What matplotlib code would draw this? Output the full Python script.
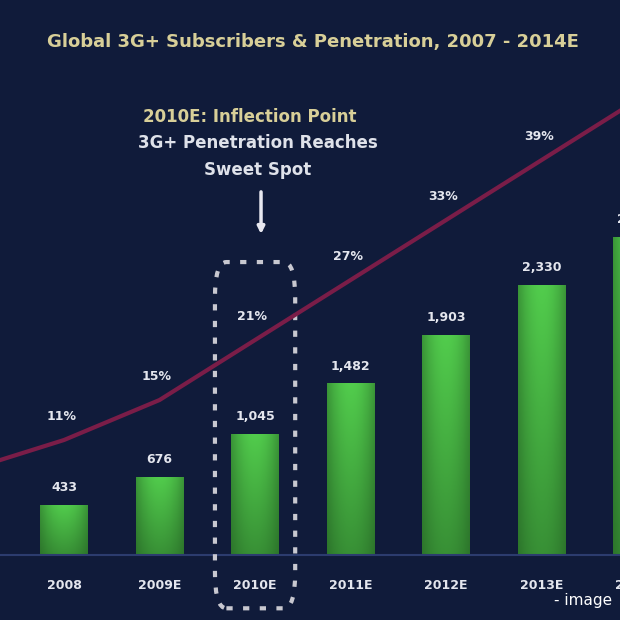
import numpy as np
import matplotlib.pyplot as plt
from matplotlib.patches import FancyBboxPatch

# data (subscribers in MM, penetration in %)
years = ["2007", "2008", "2009E", "2010E", "2011E", "2012E", "2013E", "2014E"]
subs = [295, 433, 676, 1045, 1482, 1903, 2330, 2745]
sub_labels = ["295", "433", "676", "1,045", "1,482", "1,903", "2,330", "2,745"]
penetration = [8, 11, 15, 21, 27, 33, 39, 45]

bg = "#101b3a"
fig = plt.figure(figsize=(6.2, 6.2), dpi=100, facecolor=bg)
ax = fig.add_axes([0, 0, 1, 1], facecolor=bg)
ax2 = ax.twinx()

x = np.arange(len(years))

# green bars with a soft gradient
bars = ax.bar(x, subs, width=0.5, color="#3aa83a", zorder=2)
gx = np.linspace(-1, 1, 40)
gy = np.linspace(0, 1, 60)
shade = (1 - 0.45 * gx[None, :] ** 2) * (0.5 + 0.5 * gy[:, None])
grad = np.zeros((60, 40, 3))
grad[..., 0] = 0.12 + 0.20 * shade
grad[..., 1] = 0.33 + 0.47 * shade
grad[..., 2] = 0.12 + 0.18 * shade
for b, xi, v, lab in zip(bars, x, subs, sub_labels):
    im = ax.imshow(grad, extent=[xi - 0.25, xi + 0.25, 0, v], origin="lower",
                   aspect="auto", zorder=3)
    im.set_clip_path(b)
    ax.text(xi, v + 150, lab, ha="center", va="center",
            color="#e4e6ee", fontsize=9, fontweight="bold", zorder=5)

# baseline and year labels
ax.axhline(0, color="#2c3c6e", lw=1.5, zorder=4)
for xi, yr in zip(x, years):
    ax.text(xi, -260, yr, ha="center", va="center", color="#e4e6ee",
            fontsize=9, fontweight="bold")

ax.set_xlim(0.33, 6.82)
ax.set_ylim(-561, 4793)
ax.axis("off")

# penetration line
ax2.plot(x, penetration, color="#7a1d48", lw=3, zorder=4, solid_capstyle="round")
for xi, p in zip(x, penetration):
    ax2.annotate(f"{p}%", (xi, p), xytext=(-2, 17), textcoords="offset points",
                 ha="center", va="center", color="#e4e6ee", fontsize=9,
                 fontweight="bold")
ax2.set_ylim(-7, 55)
ax2.set_xlim(ax.get_xlim())
ax2.axis("off")

# dashed box around the inflection year
box = FancyBboxPatch((3 - 0.5 + 0.08, -460), 1 - 0.16, 2990,
                     boxstyle="round,pad=0,rounding_size=0.12",
                     fill=False, ec="#c8c8d0", lw=3, ls=(0, (1.5, 2.5)),
                     mutation_aspect=2600, zorder=6)
ax.add_patch(box)

# callout text and arrow
fig.text(0.403, 0.812, "2010E: Inflection Point", ha="center", va="center",
         color="#d8cf98", fontsize=12, fontweight="bold")
fig.text(0.416, 0.769, "3G+ Penetration Reaches", ha="center", va="center",
         color="#dfe2ea", fontsize=12, fontweight="bold")
fig.text(0.416, 0.726, "Sweet Spot", ha="center", va="center",
         color="#dfe2ea", fontsize=12, fontweight="bold")
ax.annotate("", xy=(0.421, 0.618), xytext=(0.421, 0.695),
            xycoords="figure fraction", textcoords="figure fraction",
            arrowprops=dict(arrowstyle="-|>", color="#e8e8f0", lw=2.5,
                            mutation_scale=10))

fig.text(0.505, 0.932, "Global 3G+ Subscribers & Penetration, 2007 - 2014E",
         ha="center", va="center", color="#d8cf98", fontsize=13,
         fontweight="bold")
fig.text(0.988, 0.032, "- image", ha="right", va="center", color="#ffffff",
         fontsize=11)

fig.savefig("out.png", dpi=100, facecolor=bg)
